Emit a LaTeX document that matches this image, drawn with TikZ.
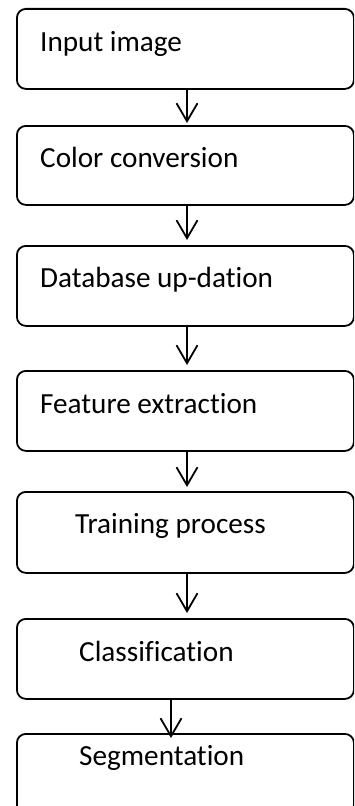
\documentclass[tikz,border=0pt]{standalone}
\usepackage{fontspec}
\setmainfont{Carlito}[Ligatures=NoCommon]
\usetikzlibrary{arrows.meta,calc}
\begin{document}
\begin{tikzpicture}[x=1bp,y=-1bp,
  box/.style={draw, line width=1.8bp, rounded corners=9bp, minimum width=337bp, anchor=north west, inner sep=0pt},
  lbl/.style={anchor=base west, inner sep=0pt, font=\fontsize{29.2bp}{35bp}\selectfont},
  arr/.style={line width=1.8bp, -{Straight Barb[length=18bp,width=21bp]}}]
\useasboundingbox (0,0) rectangle (354,806);
\clip (0,0) rectangle (354,806);
\node[box, minimum height=80bp] (b1) at (16,8) {};
\node[box, minimum height=79bp] (b2) at (16,125) {};
\node[box, minimum height=80bp] (b3) at (16,245) {};
\node[box, minimum height=80bp] (b4) at (16,370) {};
\node[box, minimum height=81bp] (b5) at (16,491) {};
\node[box, minimum height=80bp] (b6) at (16,618) {};
\node[box, minimum height=80bp] (b7) at (16,733) {};
\node[lbl] (t1) at (40,52) {Input image};
\node[lbl] (t2) at (40,167) {Color conversion};
\node[lbl] (t3) at (40,287) {Database up-dation};
\node[lbl] (t4) at (40,413) {Feature extraction};
\node[lbl] (t5) at (75,533) {Training process};
\node[lbl] (t6) at (79,661) {Classification};
\node[lbl] (t7) at (79,765) {Segmentation};
\coordinate (ax) at (187,0);
\coordinate (bx) at (171,0);
\draw[arr] (b1.south -| ax) -- ($(b2.north -| ax)+(0,-2)$);
\draw[arr] (b2.south -| ax) -- ($(b3.north -| ax)+(0,-5)$);
\draw[arr] (b3.south -| ax) -- ($(b4.north -| ax)+(0,-5)$);
\draw[arr] (b4.south -| ax) -- ($(b5.north -| ax)+(0,-4)$);
\draw[arr] (b5.south -| ax) -- ($(b6.north -| ax)+(0,-5)$);
\draw[arr] (b6.south -| bx) -- ($(b7.north -| bx)+(0,5)$);
\end{tikzpicture}
\end{document}
